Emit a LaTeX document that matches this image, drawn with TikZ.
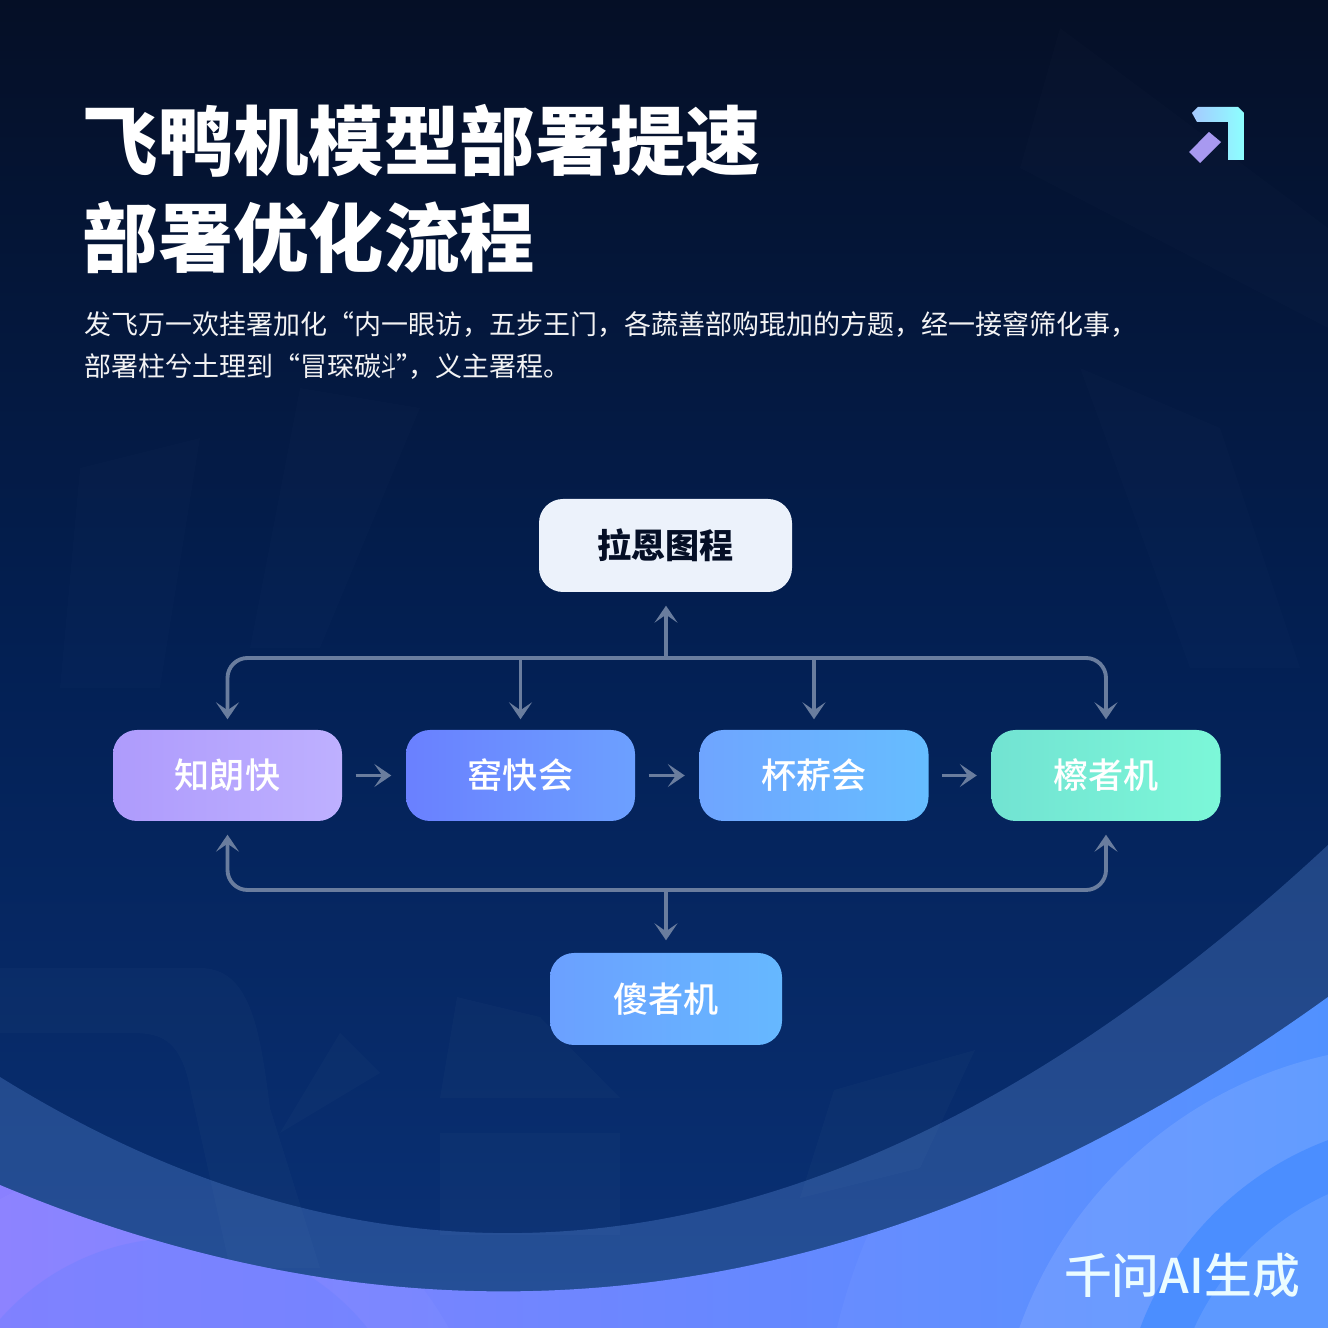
\documentclass[tikz,border=0pt]{standalone}
\usepackage{fontspec}
\setmainfont{Noto Sans CJK SC}
\newfontfamily\labelfont{Noto Sans CJK SC Medium}
\usetikzlibrary{arrows.meta}
\definecolor{bgtop}{HTML}{050F26}
\definecolor{bgmid}{HTML}{032054}
\definecolor{bgbot}{HTML}{0A3278}
\definecolor{bandblue}{HTML}{6FA0F0}
\definecolor{flowgray}{HTML}{6A7D9E}
\definecolor{waveleft}{HTML}{8A80FF}
\definecolor{wavemid}{HTML}{6880FF}
\definecolor{waveright}{HTML}{4B8EFF}
\begin{document}
\begin{tikzpicture}[x=1cm,y=1cm]
\tikzset{
  stepnode/.style={rounded corners=0.24cm,minimum width=2.29cm,minimum height=0.91cm,inner sep=0pt,
    text=white,font=\labelfont\fontsize{10}{12}\selectfont},
  flowline/.style={draw=flowgray,line width=1.1pt,rounded corners=0.2cm},
  flowarrow/.style={flowline,-{Stealth[length=1.7mm,width=2.3mm,inset=0.8mm]}},
  faintshape/.style={fill=white,fill opacity=0.018},
  fainttop/.style={fill=white,fill opacity=0.01},
  titletext/.style={anchor=west,inner sep=0pt,text=white,font=\bfseries\fontsize{21.45}{26}\selectfont},
  paratext/.style={anchor=west,inner sep=0pt,text=white!95!bgtop,font=\fontsize{7.68}{10}\selectfont}
}
\useasboundingbox (0,0) rectangle (13.28,13.28);
% background
\shade[top color=bgtop,bottom color=bgbot,middle color=bgmid] (0,0) rectangle (13.28,13.28);
\fill[faintshape] (0,3.6) -- (2.0,3.6) .. controls (2.5,3.6) and (2.6,3.0) .. (2.7,2.2) -- (3.2,0.6) -- (2.3,0.6) -- (1.9,2.4) .. controls (1.8,2.9) and (1.6,2.95) .. (1.3,2.95) -- (0,2.95) -- cycle;
\fill[faintshape] (3.4,2.95) -- (3.8,2.55) -- (2.8,1.95) -- cycle;
\fill[faintshape] (4.57,3.31) -- (5.4,3.11) -- (6.2,2.3) -- (4.4,2.3) -- cycle;
\fill[faintshape] (4.4,1.95) -- (6.2,1.95) -- (6.2,0.93) -- (4.4,0.93) -- cycle;
\fill[faintshape] (8.34,2.38) -- (9.75,2.78) -- (9.2,1.6) -- (8.0,1.3) -- cycle;
\fill[fainttop] (10.6,13.0) -- (13.28,11.0) -- (13.28,10.0) -- (10.2,11.6) -- cycle;
\fill[fainttop] (10.8,9.6) -- (12.2,9.0) -- (13.0,6.6) -- (11.9,6.6) -- cycle;
\fill[fainttop] (0.8,8.6) -- (2.0,8.9) -- (1.6,6.4) -- (0.6,6.4) -- cycle;
\fill[fainttop] (3.0,9.4) -- (4.2,9.2) -- (3.2,6.8) -- (2.5,6.8) -- cycle;
% waves
\fill[bandblue,fill opacity=0.27]
  (0,2.51) .. controls (4.43,-0.24) and (8.85,0.71) .. (13.28,4.83) -- (13.28,0) -- (0,0) -- cycle;
\begin{scope}
\clip (0,1.43) .. controls (4.43,-0.43) and (8.85,0.12) .. (13.28,3.31) -- (13.28,0) -- (0,0) -- cycle;
\shade[left color=waveleft,middle color=wavemid,right color=waveright] (0,0) rectangle (13.28,3.4);
\fill[white,fill opacity=0.035] (14.2,-1.42) circle (6.0cm);
\fill[white,fill opacity=0.10] (14.2,-1.42) circle (4.25cm);
\fill[waveright] (14.4,-1.12) circle (3.2cm);
\fill[white,fill opacity=0.10] (14.4,-1.12) circle (2.7cm);
\fill[white,fill opacity=0.03] (1.6,-1.6) circle (3.3cm);
\fill[wavemid,fill opacity=0.35] (1.8,-1.5) circle (2.4cm);
\end{scope}
% title
\node[titletext] (n_title1) at (0.82,11.87) {飞鸭机模型部署提速};
\node[titletext] (n_title2) at (0.82,10.90) {部署优化流程};
\node[paratext] (n_para1) at (0.84,10.03) {发飞万一欢挂署加化“内一眼访，五步王门，各蔬善部购琨加的方题，经一接窨筛化事，};
\node[paratext] (n_para2) at (0.84,9.61) {部署柱兮土理到“冒琛碳\scalebox{0.55}[1]{斗}”\kern-0.15cm，义主署程。};
% logo
\shade[left color=cyan!40!blue!35!white,right color=cyan!45!white]
  (11.92,12.15) -- (11.98,12.21) -- (12.38,12.21) -- (12.44,12.15) -- (12.44,11.68)
  -- (12.28,11.68) -- (12.28,12.06) -- (11.97,12.06) -- cycle;
\fill[violet!30!blue!40!white] (12.09,11.96) -- (12.21,11.86) -- (12.00,11.65) -- (11.89,11.76) -- cycle;
% boxes
\definecolor{zhiA}{HTML}{AE9BFC}\definecolor{zhiB}{HTML}{BEB0FF}
\definecolor{yaoA}{HTML}{6A80FF}\definecolor{yaoB}{HTML}{6CA0FF}
\definecolor{beiA}{HTML}{6FA5FF}\definecolor{beiB}{HTML}{66BDFF}
\definecolor{caA}{HTML}{72E3D2}\definecolor{caB}{HTML}{7CF7D8}
\definecolor{shaA}{HTML}{6BA0FF}\definecolor{shaB}{HTML}{66B8FF}
\definecolor{topfill}{HTML}{ECF2FB}
\node[stepnode,minimum width=2.53cm,minimum height=0.93cm,fill=topfill,text=bgtop,font=\bfseries\fontsize{9.7}{12}\selectfont] (n_top) at (6.655,7.825) {拉恩图程};
\node[stepnode,left color=zhiA,right color=zhiB] (n_zhi) at (2.275,5.525) {知朗快};
\node[stepnode,left color=yaoA,right color=yaoB] (n_yao) at (5.205,5.525) {窑快会};
\node[stepnode,left color=beiA,right color=beiB] (n_bei) at (8.14,5.525) {杯菥会};
\node[stepnode,left color=caA,right color=caB] (n_ca) at (11.06,5.525) {檫者机};
\node[stepnode,minimum width=2.32cm,minimum height=0.92cm,left color=shaA,right color=shaB] (n_sha) at (6.66,3.29) {傻者机};
% bus coordinates
\coordinate (bus_top) at (6.66,6.70);
\coordinate (bus_bot) at (6.66,4.38);
% connectors
\draw[flowarrow,shorten >=0.13cm] (bus_top) -- (n_top.south -| bus_top);
\draw[flowarrow,shorten >=0.10cm] (bus_top) -| (n_zhi.north);
\draw[flowarrow,shorten >=0.10cm] (n_yao.north |- bus_top) -- (n_yao.north);
\draw[flowarrow,shorten >=0.10cm] (n_bei.north |- bus_top) -- (n_bei.north);
\draw[flowarrow,shorten >=0.10cm] (bus_top) -| (n_ca.north);
\draw[flowarrow,shorten >=0.13cm] (bus_bot) -| (n_zhi.south);
\draw[flowarrow,shorten >=0.13cm] (bus_bot) -| (n_ca.south);
\draw[flowarrow,shorten >=0.12cm] (bus_bot) -- (n_sha.north -| bus_bot);
\draw[flowarrow,shorten <=0.13cm,shorten >=0.14cm] (n_zhi.east) -- (n_yao.west);
\draw[flowarrow,shorten <=0.13cm,shorten >=0.14cm] (n_yao.east) -- (n_bei.west);
\draw[flowarrow,shorten <=0.13cm,shorten >=0.14cm] (n_bei.east) -- (n_ca.west);
% mark
\node[anchor=center,inner sep=0pt,text=blue!12!cyan!8!white,font=\labelfont\fontsize{13.6}{16}\selectfont] (n_mark) at (11.82,0.52) {千问AI生成};
\end{tikzpicture}
\end{document}
